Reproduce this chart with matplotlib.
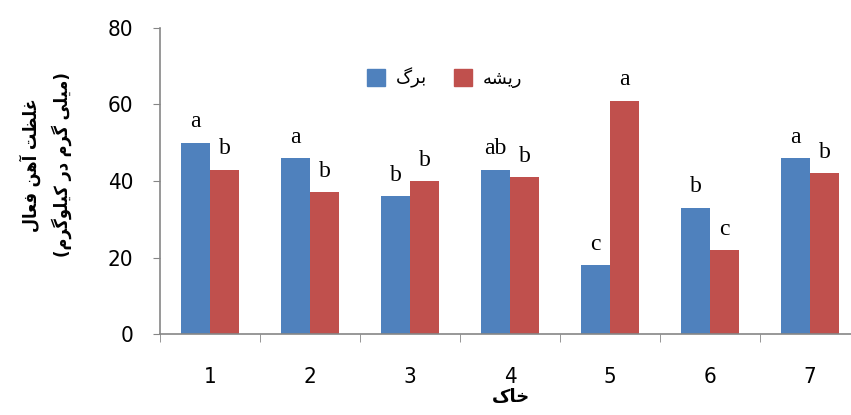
import matplotlib
matplotlib.use("Agg")
import matplotlib.pyplot as plt
import numpy as np
from matplotlib.patches import Patch

soils = ["1", "2", "3", "4", "5", "6", "7"]
leaf = [50, 46, 36, 43, 18, 33, 46]
root = [43, 37, 40, 41, 61, 22, 42]
leaf_letters = ["a", "a", "b", "ab", "c", "b", "a"]
root_letters = ["b", "b", "b", "b", "a", "c", "b"]
yticks = [0, 20, 40, 60, 80]

# Persian text, pre-shaped in visual (left-to-right) order
leaf_name = "\uFB92\uFEAE\uFE91"                 # برگ
root_name = "\uFEEA\uFEB8\uFEF3\uFEAD"           # ریشه
xlabel = "\uFB8E\uFE8E\uFEA7"                    # خاک
ylabel1 = "\uFEDD\uFE8E\uFECC\uFED3 \uFEE6\uFEEB\uFE81 \uFE96\uFEC8\uFEE0\uFECF"  # غلظت آهن فعال
ylabel2 = ("(\uFEE1\uFEAE\uFB94\uFEEE\uFEE0\uFEF4\uFB90 \uFEAD\uFEA9 "
           "\uFEE1\uFEAE\uFB94 \uFEF0\uFEE0\uFEF4\uFEE3)")                     # (میلی گرم در کیلوگرم)

blue = "#4F81BD"
red = "#C0504D"
gray = "#868686"

fig = plt.figure(figsize=(8.51, 4.15), dpi=100)
ax = fig.add_axes([160/851, 81/415, 700/851, 306/415])

x = np.arange(len(soils))
w = 0.29
ax.bar(x - w/2, leaf, width=w, color=blue, label=leaf_name)
ax.bar(x + w/2, root, width=w, color=red, label=root_name)

for xi, v, t in zip(x, leaf, leaf_letters):
    ax.text(xi - w/2, v + 4.0, t, ha="center", va="baseline", fontsize=17, family="Liberation Serif")
for xi, v, t in zip(x, root, root_letters):
    ax.text(xi + w/2, v + 4.0, t, ha="center", va="baseline", fontsize=17, family="Liberation Serif")

ax.set_xlim(-0.5, len(soils) - 0.5)
ax.set_ylim(0, 80)
ax.set_yticks(yticks)
ax.set_yticklabels([str(v) for v in yticks], family="DejaVu Sans", stretch="condensed", fontsize=16)
ax.set_xticks(x)
ax.set_xticklabels(soils, family="DejaVu Sans", stretch="condensed", fontsize=16)
ax.set_xticks(np.arange(-0.5, len(soils)), minor=True)
ax.tick_params(axis="x", which="major", length=0, pad=35)
ax.tick_params(axis="x", which="minor", length=6, color=gray, direction="out")
ax.tick_params(axis="y", length=5, color=gray, direction="out", pad=14)
for lbl in ax.get_xticklabels():
    lbl.set_verticalalignment("baseline")

for s in ["top", "right"]:
    ax.spines[s].set_visible(False)
for s in ["left", "bottom"]:
    ax.spines[s].set_color(gray)
    ax.spines[s].set_linewidth(1.2)

fig.text(511/851, 13/415, xlabel, ha="center", va="baseline",
         family="DejaVu Sans", fontsize=13, fontweight="bold")

fig.text(30/851, 1 - 165/415, ylabel1, rotation=90, ha="center", va="center",
         family="DejaVu Sans", stretch="condensed", fontsize=13, fontweight="bold")
fig.text(62/851, 1 - 165/415, ylabel2, rotation=90, ha="center", va="center",
         family="DejaVu Sans", stretch="condensed", fontsize=13, fontweight="bold")

handles = [Patch(color=blue, label=leaf_name), Patch(color=red, label=root_name)]
ax.legend(handles=handles, loc="center", bbox_to_anchor=(445/851, 1 - 78/415),
          bbox_transform=fig.transFigure, ncol=2, frameon=False,
          prop={"family": "DejaVu Sans", "size": 13}, handlelength=1.0, handleheight=1.0,
          columnspacing=1.5, handletextpad=0.6)

fig.savefig("out.png", dpi=100)
